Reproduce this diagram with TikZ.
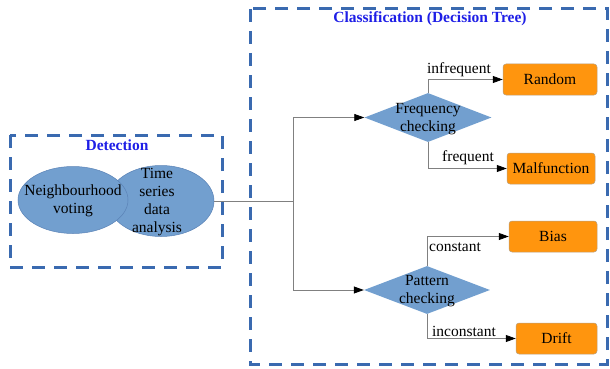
\documentclass[tikz,border=0pt]{standalone}
\usepackage{fontspec}
\setmainfont{Liberation Serif}
\usetikzlibrary{shapes.geometric,arrows.meta}
\definecolor{dashblue}{HTML}{3A6AB0}
\definecolor{titleblue}{HTML}{1E1EE6}
\definecolor{shapeblue}{HTML}{729FCF}
\definecolor{shapeedge}{HTML}{5A82B6}
\definecolor{boxorange}{HTML}{FF950E}
\definecolor{boxedge}{HTML}{B8A080}
\definecolor{linegray}{HTML}{808080}
\begin{document}
\begin{tikzpicture}[x=1pt,y=-1pt,
  every node/.style={font=\fontsize{15.5}{18}\selectfont, inner sep=0pt, align=center},
  group/.style={draw=dashblue, line width=3pt, dash pattern=on 13pt off 9pt},
  grouptitle/.style={text=titleblue, font=\fontsize{15.5}{18}\selectfont\bfseries},
  blob/.style={ellipse, fill=shapeblue, draw=shapeedge, line width=0.5pt},
  choice/.style={diamond, fill=shapeblue, draw=none},
  outcome/.style={rectangle, rounded corners=3pt, fill=boxorange, draw=boxedge, line width=0.5pt},
  conn/.style={draw=linegray, line width=0.8pt},
  arr/.style={conn, -{Triangle[length=10pt,width=7pt,fill=black,color=black]}}
]
\useasboundingbox (0,0) rectangle (610,369);

% group frames
\draw[group] (10,135) rectangle (222,267);
\draw[group] (250,9) rectangle (607,364);
\node[grouptitle] (dettitle) at (117,145) {Detection};
\node[grouptitle] (clstitle) at (430,19) {Classification (Decision Tree)};

% detection ellipses
\node[blob, minimum width=106pt, minimum height=71pt] (e2) at (161,201) {};
\node[blob, minimum width=110pt, minimum height=67pt] (e1) at (73,200) {};
\node (e1t) at (73,201) {Neighbourhood\\voting};
\node (e2t) at (157,202) {Time\\series\\data\\analysis};

% junction
\coordinate (j) at (293,201);
\draw[conn] (e2.east) -- (j);

% diamonds
\node[choice, minimum width=127pt, minimum height=49pt] (d1) at (428,117.5) {};
\node (d1t) at (428,119.5) {Frequency\\checking};
\node[choice, minimum width=126pt, minimum height=48pt] (d2) at (427,290) {};
\node (d2t) at (427,291) {Pattern\\checking};

\draw[arr] (j) |- (d1.west);
\draw[arr] (j) |- (d2.west);

% outcome boxes
\node[outcome, minimum width=94pt, minimum height=31pt] (rnd) at (550,79.5) {Random};
\node[outcome, minimum width=88pt, minimum height=31pt] (mal) at (551,168.5) {Malfunction};
\node[outcome, minimum width=88pt, minimum height=31pt] (bias) at (553,236.5) {Bias};
\node[outcome, minimum width=81pt, minimum height=31pt] (drift) at (556.5,338.5) {Drift};

\draw[arr] (d1.north) |- (rnd.west);
\draw[arr] (d1.south) |- (mal.west);
\draw[arr] (d2.north) |- (bias.west);
\draw[arr] (d2.south) |- (drift.west);

% branch labels
\node (l1) at (459,70) {infrequent};
\node (l2) at (468,158) {frequent};
\node (l3) at (455,247) {constant};
\node (l4) at (464,331) {inconstant};
\end{tikzpicture}
\end{document}
